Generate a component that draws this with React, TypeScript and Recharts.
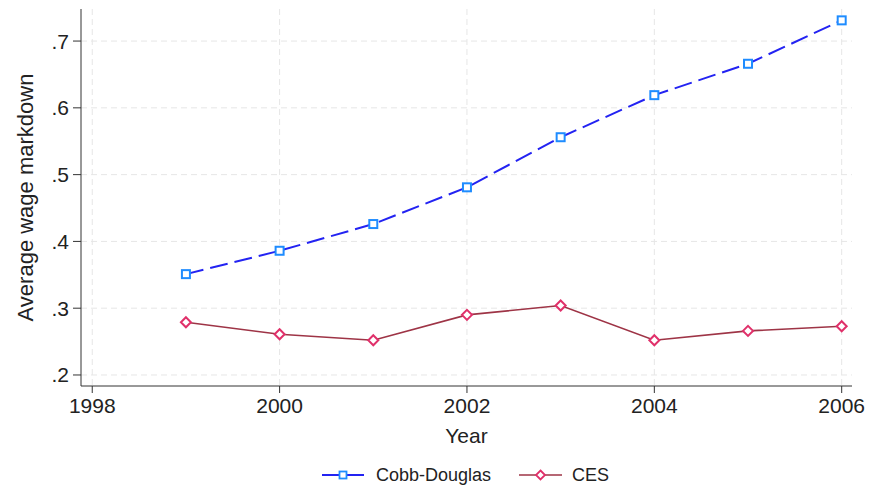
import { LineChart, Line, XAxis, YAxis, CartesianGrid, Legend, Label } from "recharts";

const years = [1999, 2000, 2001, 2002, 2003, 2004, 2005, 2006];
const cobbDouglas = [0.351, 0.386, 0.426, 0.481, 0.556, 0.619, 0.666, 0.731];
const ces = [0.279, 0.261, 0.252, 0.290, 0.304, 0.252, 0.266, 0.273];
const xTicks = [1998, 2000, 2002, 2004, 2006];
const yTicks = [0.2, 0.3, 0.4, 0.5, 0.6, 0.7];

const data = years.map((year, i) => ({
    year,
    cobbDouglas: cobbDouglas[i],
    ces: ces[i]
}));

const FONT = "'Liberation Sans', Arial, Helvetica, sans-serif";
const CD_LINE = "#2323f2";
const CD_MARK = "#1e8cff";
const CES_LINE = "#9e3446";
const CES_MARK = "#e0306a";

// hollow square marker
function SquareDot(props: any) {
    const { cx, cy, index } = props;
    if (cx == null || cy == null) return null;
    return (
        <rect key={`sq-${index}`} x={cx - 4} y={cy - 4} width={8} height={8}
              fill="#fff" stroke={CD_MARK} strokeWidth={2} />
    );
}

// hollow diamond marker
function DiamondDot(props: any) {
    const { cx, cy, index } = props;
    if (cx == null || cy == null) return null;
    const r = 5;
    return (
        <path key={`dm-${index}`}
              d={`M${cx},${cy - r} L${cx + r},${cy} L${cx},${cy + r} L${cx - r},${cy} Z`}
              fill="#fff" stroke={CES_MARK} strokeWidth={2} />
    );
}

// legend is centred under the plot area, not the whole chart
function renderLegend() {
    return (
        <div style={{ height: 30, display: "flex", justifyContent: "flex-start", alignItems: "center",
                      fontFamily: FONT, fontSize: 18, color: "#222", paddingLeft: 322 }}>
            <svg width={42} height={14} style={{ marginRight: 12 }}>
                <line x1={0} y1={7} x2={42} y2={7} stroke={CD_LINE} strokeWidth={2} />
                <rect x={17.5} y={3.5} width={7} height={7} fill="#fff" stroke={CD_MARK} strokeWidth={1.8} />
            </svg>
            <span style={{ marginRight: 28 }}>Cobb-Douglas</span>
            <svg width={43} height={14} style={{ marginRight: 10 }}>
                <line x1={0} y1={7} x2={43} y2={7} stroke={CES_LINE} strokeWidth={1.6} />
                <path d="M21.5,2.5 L26,7 L21.5,11.5 L17,7 Z" fill="#fff" stroke={CES_MARK} strokeWidth={1.8} />
            </svg>
            <span>CES</span>
        </div>
    );
}

function YTitle(props: any) {
    const { viewBox } = props;
    const cy = viewBox.y + viewBox.height / 2;
    return (
        <text x={33} y={cy} transform={`rotate(-90, 33, ${cy})`} textAnchor="middle"
              fontFamily={FONT} fontSize={22} fill="#222">
            Average wage markdown
        </text>
    );
}

export default function App() {
    return (
        <div style={{ position: "absolute", left: 0, top: 0, background: "#fff" }}>
            <LineChart width={870} height={491} data={data}
                       margin={{ top: 9, right: 18, left: 0, bottom: 1 }}>

                <CartesianGrid stroke="#e6e6e6" strokeDasharray="6 4"
                               verticalValues={xTicks} horizontalValues={yTicks} />

                <XAxis dataKey="year" type="number" domain={[1997.88, 2006.11]}
                       ticks={xTicks} allowDataOverflow height={74}
                       tickSize={7} tickMargin={5}
                       stroke="#333" tick={{ fill: "#222", fontSize: 21, fontFamily: FONT }}>
                    <Label value="Year" position="insideTop" offset={42}
                           style={{ fill: "#222", fontSize: 21, fontFamily: FONT }} />
                </XAxis>

                <YAxis type="number" domain={[0.1835, 0.748]} ticks={yTicks}
                       allowDataOverflow width={81} tickSize={8} tickMargin={4}
                       tickFormatter={(v: number) => v.toFixed(1).replace(/^0/, "")}
                       stroke="#333" tick={{ fill: "#222", fontSize: 21, fontFamily: FONT }}
                       label={<YTitle />} />

                <Legend verticalAlign="bottom" height={30} content={renderLegend}
                        wrapperStyle={{ left: 0, width: 870 }} />

                <Line dataKey="cobbDouglas" name="Cobb-Douglas" stroke={CD_LINE} strokeWidth={2}
                      strokeDasharray="18 7" dot={<SquareDot />} activeDot={false}
                      isAnimationActive={false} />

                <Line dataKey="ces" name="CES" stroke={CES_LINE} strokeWidth={1.6}
                      dot={<DiamondDot />} activeDot={false}
                      isAnimationActive={false} />

            </LineChart>
        </div>
    );
}
